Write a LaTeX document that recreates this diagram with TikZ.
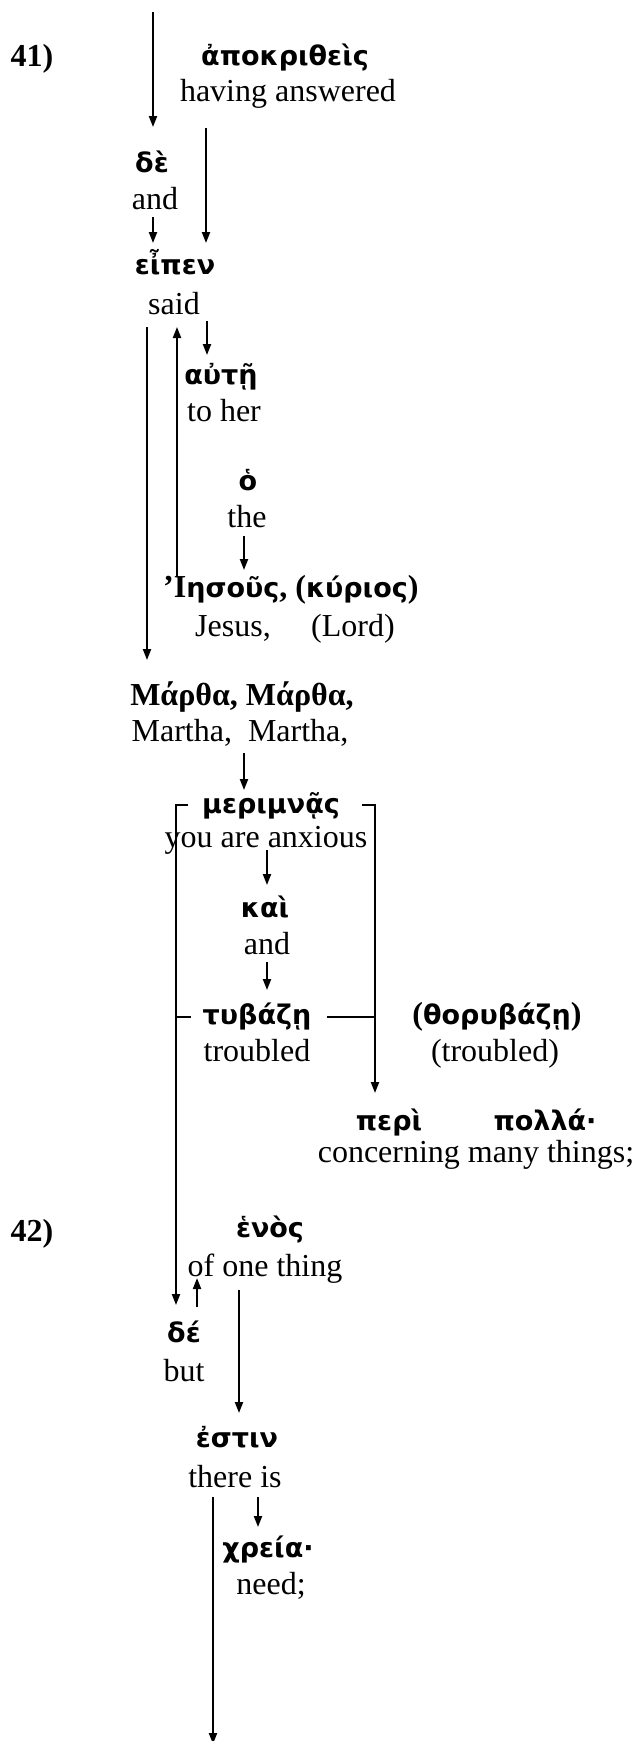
\documentclass[tikz,border=0pt]{standalone}
\usepackage{fontspec}
\setmainfont{Liberation Serif}
\newfontfamily\gkfont{DejaVu Sans}
\usetikzlibrary{arrows.meta}
\newcommand\sbf[1]{{\fontsize{32}{36}\selectfont\rmfamily\bfseries #1}}
\tikzset{
  en/.style={font=\fontsize{32}{36}\selectfont, inner sep=0pt, anchor=base},
  gk/.style={font=\fontsize{27}{32}\selectfont\gkfont\bfseries, inner sep=0pt, anchor=base},
  sb/.style={font=\fontsize{32}{36}\selectfont\bfseries, inner sep=0pt, anchor=base},
  arr/.style={line width=2pt, -{Triangle[length=11pt,width=8pt]}},
  ln/.style={line width=2pt},
}
\begin{document}
\begin{tikzpicture}[x=1pt,y=-1pt]
\useasboundingbox[fill=white] (0,0) rectangle (637,1741);
% verse numbers
\node[sb] (v41) at (32,66) {41)};
\node[sb] (v42) at (32,1241) {42)};
% words
\node[gk] (apok) at (285,65) {ἀποκριθεὶς};
\node[en] (havans) at (288,101) {having answered};
\node[gk] (de1) at (152,172) {δὲ};
\node[en] (and1) at (155,209) {and};
\node[gk] (eipen) at (175,274) {εἶπεν};
\node[en] (said) at (174,314) {said};
\node[gk] (aute) at (221,384) {αὐτῇ};
\node[en] (toher) at (224,421) {to her};
\node[gk] (ho) at (248,490) {ὁ};
\node[en] (the) at (247,527) {the};
\node[gk,anchor=base west] (iesous) at (163,597) {\sbf{’Ι}ησοῦς\sbf{, (}κύριος\sbf{)}};
\node[en] (jesus) at (233,636) {Jesus,};
\node[en] (lord) at (353,636) {(Lord)};
\node[sb] (marthagk) at (242,705) {Μάρθα, Μάρθα,};
\node[en] (martha) at (240,741) {Martha,\ \ Martha,};
\node[gk] (merim) at (271,813) {μεριμνᾷς};
\node[en] (anx) at (266,847) {you are anxious};
\node[gk] (kai) at (265,917) {καὶ};
\node[en] (and2) at (267,954) {and};
\node[gk] (tyb) at (257,1024) {τυβάζῃ};
\node[en] (troub) at (257,1061) {troubled};
\node[gk] (thor) at (497,1024) {\sbf{(}θορυβάζῃ\sbf{)}};
\node[en] (troub2) at (495,1061) {(troubled)};
\node[gk] (peri) at (389,1130) {περὶ};
\node[gk] (polla) at (545,1130) {πολλά·};
\node[en] (conc) at (476,1162) {concerning many things;};
\node[gk] (enos) at (270,1237) {ἑνὸς};
\node[en] (onething) at (265,1276) {of one thing};
\node[gk] (de2) at (184,1342) {δέ};
\node[en] (but) at (184,1381) {but};
\node[gk] (estin) at (237,1447) {ἐστιν};
\node[en] (thereis) at (235,1487) {there is};
\node[gk] (chreia) at (268,1557) {χρεία·};
\node[en] (need) at (271,1594) {need;};
% connector end points
\coordinate (top) at (153,12);
\coordinate (de1-in) at (153,127);
\coordinate (havans-out) at (206,128);
\coordinate (eipen-in1) at (206,243);
\coordinate (and1-out) at (153,217);
\coordinate (eipen-in2) at (153,243);
\coordinate (said-out1) at (147,327);
\coordinate (marthagk-in) at (147,660);
\coordinate (iesous-out) at (177,577);
\coordinate (said-in) at (177,327);
\coordinate (said-out2) at (207,321);
\coordinate (aute-in) at (207,355);
\coordinate (the-out) at (244,536);
\coordinate (iesous-in) at (244,570);
\coordinate (martha-out) at (244,753);
\coordinate (merim-in) at (244,790);
\coordinate (anx-out) at (267,850);
\coordinate (kai-in) at (267,885);
\coordinate (and2-out) at (267,962);
\coordinate (tyb-in) at (267,990);
\coordinate (merim-l) at (188,805);
\coordinate (brl-t) at (176,805);
\coordinate (tyb-l) at (191,1017);
\coordinate (brl-m) at (176,1017);
\coordinate (de2-in) at (176,1305);
\coordinate (merim-r) at (362,805);
\coordinate (brr-t) at (375,805);
\coordinate (tyb-r) at (327,1017);
\coordinate (brr-m) at (375,1017);
\coordinate (peri-in) at (375,1093);
\coordinate (de2-out) at (197,1307);
\coordinate (onething-in) at (197,1278);
\coordinate (onething-out) at (239,1290);
\coordinate (estin-in) at (239,1413);
\coordinate (thereis-out1) at (213,1497);
\coordinate (bottom) at (213,1744);
\coordinate (thereis-out2) at (258,1497);
\coordinate (chreia-in) at (258,1527);
% connectors
\draw[arr] (top) -- (de1-in);
\draw[arr] (havans-out) -- (eipen-in1);
\draw[arr] (and1-out) -- (eipen-in2);
\draw[arr] (said-out1) -- (marthagk-in);
\draw[arr] (iesous-out) -- (said-in);
\draw[arr] (said-out2) -- (aute-in);
\draw[arr] (the-out) -- (iesous-in);
\draw[arr] (martha-out) -- (merim-in);
\draw[arr] (anx-out) -- (kai-in);
\draw[arr] (and2-out) -- (tyb-in);
\draw[arr] (merim-l) -- (brl-t) -- (de2-in);
\draw[ln] (tyb-l) -- (brl-m);
\draw[arr] (merim-r) -- (brr-t) -- (peri-in);
\draw[ln] (tyb-r) -- (brr-m);
\draw[arr] (de2-out) -- (onething-in);
\draw[arr] (onething-out) -- (estin-in);
\draw[arr] (thereis-out1) -- (bottom);
\draw[arr] (thereis-out2) -- (chreia-in);
\end{tikzpicture}
\end{document}
